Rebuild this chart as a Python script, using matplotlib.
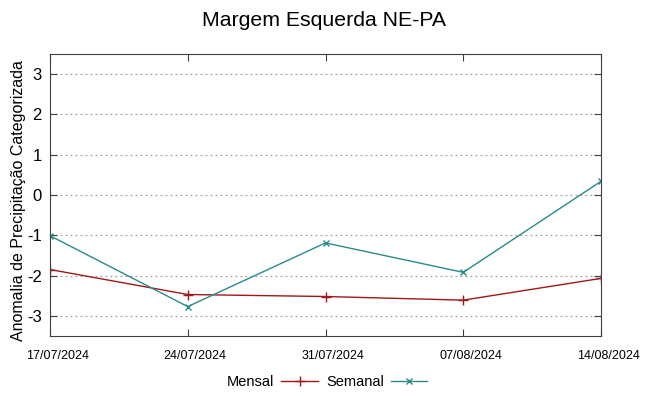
import numpy as np
import matplotlib
matplotlib.use('Agg')
import matplotlib.pyplot as plt
from matplotlib.transforms import ScaledTranslation

plt.rcParams['font.family'] = ['Liberation Sans', 'DejaVu Sans']

dates = ['17/07/2024', '24/07/2024', '31/07/2024', '07/08/2024', '14/08/2024']
mensal = [-1.85, -2.47, -2.52, -2.61, -2.07]
semanal = [-1.01, -2.77, -1.19, -1.92, 0.34]
yticks = [-3, -2, -1, 0, 1, 2, 3]

fig = plt.figure(figsize=(6.49, 3.96), dpi=100)
ax = fig.add_axes([50/649, 1-336/396, 551/649, 282/396])

x = np.arange(len(dates))
ax.plot(x, mensal, color='#a01818', lw=1, marker='+', ms=7, mew=1, label='Mensal')
ax.plot(x, semanal, color='#2a8a8a', lw=1, marker='x', ms=5, mew=1, label='Semanal')

ax.set_xlim(0, len(dates) - 1)
ax.set_ylim(-3.5, 3.5)
ax.set_xticks(x)
ax.set_xticklabels([])
# gnuplot puts the date labels a bit to the right of the ticks
shift = ScaledTranslation(7.5/100, -20/100, fig.dpi_scale_trans)
for xi, d in zip(x, dates):
    ax.text(xi, 0, d, fontsize=9, ha='center', va='center',
            transform=ax.get_xaxis_transform() + shift, clip_on=False)
ax.set_yticks(yticks)
ax.set_yticklabels([str(v) for v in yticks], fontsize=12)
ax.tick_params(direction='in', length=5, top=True, right=True, color='#404040')
ax.tick_params(axis='y', pad=6)
for s in ax.spines.values():
    s.set_color('#404040')
ax.yaxis.grid(True, ls=(0, (1.5, 2.5)), color='#a0a0a0', lw=0.9)

ax.set_ylabel('Anomalia de Precipitação Categorizada', fontsize=11.5, va='center')
ax.yaxis.set_label_coords(-31/551, 135/282)
fig.suptitle('Margem Esquerda NE-PA', fontsize=15.3, y=1-20/396, va='center')

fig.legend(loc='center', bbox_to_anchor=(0.504, 1-382/396), ncol=2, frameon=False,
           markerfirst=False, fontsize=10.5, handlelength=2.5, columnspacing=0.55,
           handletextpad=0.5)

fig.savefig('out.png', dpi=100)
